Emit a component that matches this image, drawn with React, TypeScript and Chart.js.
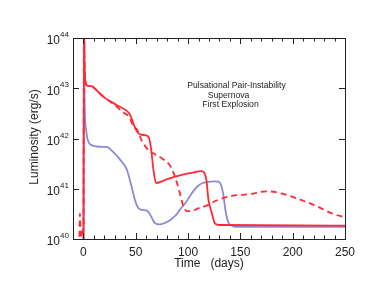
import React, { useEffect, useRef } from 'react';
import { Chart, registerables } from 'chart.js';

Chart.register(...registerables);

// ---- data (time in days, luminosity in erg/s) ----
const redSolidDays = [0, 0.5, 1.2, 3, 8, 11, 19, 32, 41, 44, 46, 49, 52, 55, 60, 62.5, 64.5, 67, 69.4, 80, 95, 105, 112, 115, 117.5, 119.5, 122.5, 125.6, 130, 250];
const redSolidLum = [3e39, 2e44, 2.2e43, 1.15e43, 1.1e43, 9.8e42, 6.8e42, 4.6e42, 3.6e42, 3.1e42, 2.5e42, 1.7e42, 1.3e42, 1.2e42, 1.15e42, 1.05e42, 6.5e41, 2.3e41, 1.3e41, 1.55e41, 1.9e41, 2.1e41, 2.25e41, 2.15e41, 1.5e41, 6e40, 3.4e40, 2.05e40, 1.9e40, 1.85e40];

const redDashedDays = [-4, -3.4, -2.8, -1.5, -0.5, 0, 0.4, 1.2, 3, 8, 11, 19, 30, 36.6, 40, 43, 46, 48, 50, 51, 53, 55.7, 58, 62.3, 68, 76, 82.7, 86, 88, 90.6, 92.3, 95.4, 98.6, 103, 110, 117.7, 126, 142, 159, 175, 190, 206, 222, 238, 250];
const redDashedLum = [7e39, 3.2e40, 1.6e40, 1.1e40, 1.5e40, 1.6e40, 2e44, 2.2e43, 1.15e43, 1.1e43, 9.8e42, 6.8e42, 4.6e42, 3.5e42, 3.1e42, 2.8e42, 2.1e42, 1.65e42, 1.6e42, 1.55e42, 1.25e42, 9.1e41, 7.5e41, 5.8e41, 4.9e41, 3.9e41, 2.9e41, 2.1e41, 1.6e41, 1.07e41, 7.8e40, 4.6e40, 3.6e40, 3.6e40, 4.1e40, 4.6e40, 5.7e40, 7.2e40, 7.8e40, 8.9e40, 8e40, 6.2e40, 4.6e40, 3.2e40, 2.7e40];

const blueDays = [0, 0.5, 1.2, 2.5, 4, 7, 12, 19, 23, 26, 30, 35, 41.5, 46, 49, 52, 56, 60, 62.8, 65.5, 68.4, 73, 78, 82.7, 86, 89, 92, 95.4, 98, 101.8, 106, 109.7, 114, 118, 124, 129, 132, 134, 135.5, 138.4, 141.5, 145, 250];
const blueLum = [3e39, 8e43, 4e42, 1.5e42, 9.5e41, 7.5e41, 7e41, 6.8e41, 6.7e41, 6e41, 5e41, 3.8e41, 2.4e41, 1.1e41, 6.2e40, 4.3e40, 3.8e40, 3.7e40, 3.3e40, 2.6e40, 2.05e40, 1.95e40, 2.1e40, 2.35e40, 2.7e40, 3.1e40, 3.8e40, 4.6e40, 5.4e40, 7.2e40, 9.5e40, 1.15e41, 1.3e41, 1.35e41, 1.4e41, 1.38e41, 1.1e41, 7e40, 4e40, 2.15e40, 1.85e40, 1.75e40, 1.75e40];

const xTickLabels = [0, 50, 100, 150, 200, 250];
const xMinorTicks = [-10, 0, 10, 20, 30, 40, 50, 60, 70, 80, 90, 100, 110, 120, 130, 140, 150, 160, 170, 180, 190, 200, 210, 220, 230, 240, 250];
const yTickExponents = [40, 41, 42, 43, 44];
const annotationLines = ['Pulsational Pair-Instability', 'Supernova', 'First Explosion'];
const xTitle = 'Time   (days)';
const yTitle = 'Luminosity (erg/s)';

const RED = '#ff2a36';
const BLUE = '#8a8ad8';
const TEXT = '#222222';
const FONT = '"Liberation Sans", Arial, sans-serif';

const toPts = (xs: number[], ys: number[]) => xs.map((x, i) => ({ x, y: ys[i] }));

const framePlugin = {
  id: 'frame',
  afterDatasetsDraw(chart: any) {
    const { ctx, chartArea: a, scales } = chart;
    const xs = scales.x;
    const ys = scales.y;
    ctx.save();
    ctx.strokeStyle = TEXT;
    ctx.lineWidth = 1;
    ctx.setLineDash([]);
    ctx.strokeRect(Math.round(a.left) + 0.5, Math.round(a.top) + 0.5, Math.round(a.right - a.left), Math.round(a.bottom - a.top));
    ctx.beginPath();
    for (const v of xMinorTicks) {
      const px = Math.round(xs.getPixelForValue(v)) + 0.5;
      const len = xTickLabels.includes(v) ? 6 : 3.5;
      ctx.moveTo(px, a.bottom);
      ctx.lineTo(px, a.bottom - len);
      ctx.moveTo(px, a.top);
      ctx.lineTo(px, a.top + len);
    }
    for (const e of yTickExponents) {
      const py = Math.round(ys.getPixelForValue(Math.pow(10, e))) + 0.5;
      ctx.moveTo(a.left, py);
      ctx.lineTo(a.left + 6, py);
      ctx.moveTo(a.right, py);
      ctx.lineTo(a.right - 6, py);
    }
    ctx.stroke();

    // y tick labels: 10^n
    ctx.fillStyle = TEXT;
    for (const e of yTickExponents) {
      const py = ys.getPixelForValue(Math.pow(10, e));
      ctx.font = `12px ${FONT}`;
      ctx.textAlign = 'right';
      ctx.textBaseline = 'middle';
      ctx.fillText('10', a.left - 13, py + 3);
      ctx.font = `8px ${FONT}`;
      ctx.textAlign = 'left';
      ctx.fillText(String(e), a.left - 13, py - 3);
    }

    // axis titles
    ctx.font = `12px ${FONT}`;
    ctx.textAlign = 'center';
    ctx.textBaseline = 'middle';
    ctx.fillText(xTitle, (a.left + a.right) / 2, 264);
    ctx.save();
    ctx.translate(35, 137);
    ctx.rotate(-Math.PI / 2);
    ctx.fillText(yTitle, 0, 0);
    ctx.restore();

    // annotation
    ctx.font = `8.6px ${FONT}`;
    const cx = [236.5, 228.5, 230.5];
    const cy = [86, 95.5, 105];
    annotationLines.forEach((t, i) => ctx.fillText(t, cx[i], cy[i]));
    ctx.restore();
  },
};

export default function App() {
  const ref = useRef<HTMLCanvasElement>(null);
  useEffect(() => {
    document.body.style.margin = '0';
    const canvas = ref.current!;
    const common = { pointRadius: 0, borderWidth: 1.8, cubicInterpolationMode: 'monotone' as const, fill: false };
    const chart = new Chart(canvas, {
      type: 'line',
      data: {
        datasets: [
          { ...common, label: 'dashed', data: toPts(redDashedDays, redDashedLum), borderColor: RED, borderDash: [6, 4], order: 0 },
          { ...common, label: 'solid', data: toPts(redSolidDays, redSolidLum), borderColor: RED, order: 1 },
          { ...common, label: 'blue', data: toPts(blueDays, blueLum), borderColor: BLUE, order: 2 },
        ],
      },
      options: {
        responsive: false,
        animation: false,
        devicePixelRatio: 1,
        layout: { padding: { top: 38, right: 29, left: 0, bottom: 0 } },
        plugins: { legend: { display: false }, tooltip: { enabled: false } },
        scales: {
          x: {
            type: 'linear',
            min: -10,
            max: 250,
            grid: { display: false, drawTicks: false },
            border: { display: false },
            afterBuildTicks: (s: any) => {
              s.ticks = xTickLabels.map((v) => ({ value: v }));
            },
            afterFit: (s: any) => {
              s.height = 50;
            },
            ticks: { font: { size: 12, family: FONT }, color: TEXT, padding: 6, maxRotation: 0, autoSkip: false },
          },
          y: {
            type: 'logarithmic',
            min: 1e40,
            max: 1e44,
            grid: { display: false, drawTicks: false },
            border: { display: false },
            ticks: { display: false },
            afterFit: (s: any) => {
              s.width = 73;
            },
          },
        },
      },
      plugins: [framePlugin],
    } as any);
    return () => chart.destroy();
  }, []);
  return <canvas ref={ref} width={374} height={289} style={{ display: 'block' }} />;
}
